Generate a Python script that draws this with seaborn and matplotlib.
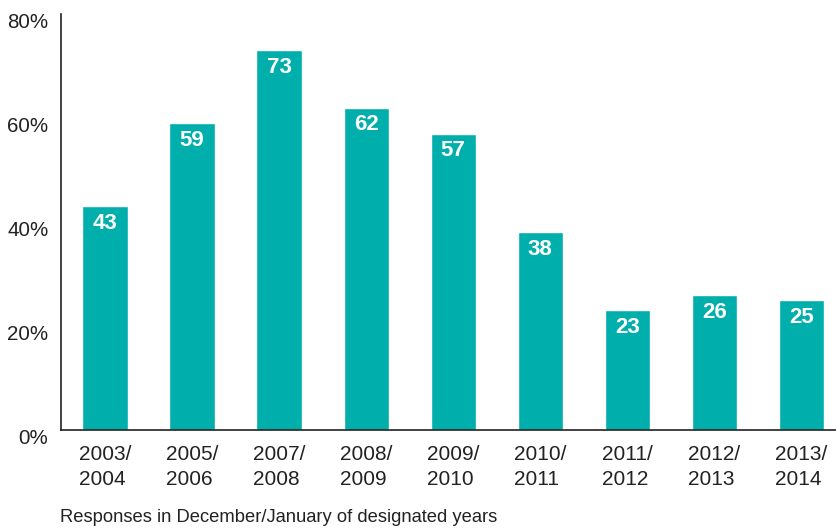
import matplotlib
matplotlib.use("Agg")
import matplotlib.pyplot as plt
import matplotlib.transforms as mtransforms
import seaborn as sns
import pandas as pd

periods = ["2003/\n2004", "2005/\n2006", "2007/\n2008", "2008/\n2009", "2009/\n2010",
           "2010/\n2011", "2011/\n2012", "2012/\n2013", "2013/\n2014"]
values = [43, 59, 73, 62, 57, 38, 23, 26, 25]
yticks = [0, 20, 40, 60, 80]
ytick_labels = ["0%", "20%", "40%", "60%", "80%"]
caption = "Responses in December/January of designated years"

sns.set_style("white")
plt.rcParams["font.family"] = ["Liberation Sans", "DejaVu Sans"]

df = pd.DataFrame({"period": periods, "value": values})

fig = plt.figure(figsize=(8.37, 5.29), dpi=100)
ax = fig.add_axes([61/837, 1 - 430/529, 1 - 61/837, (430 - 14)/529])

sns.barplot(data=df, x="period", y="value", color="#00AFAC", saturation=1,
            width=0.52, ax=ax)

ax.set_ylim(0, 80.0)
ax.set_xlim(-0.506, 8.41)
ax.set_yticks(yticks)
ax.set_yticklabels(ytick_labels, fontsize=14.8, color="#222222")
ax.set_xticklabels(periods, fontsize=15, color="#222222", multialignment="left",
                   linespacing=1.4)
ax.tick_params(axis="both", length=0)
ax.tick_params(axis="x", pad=11)
ax.tick_params(axis="y", pad=9)
ax.set_xlabel("")
ax.set_ylabel("")

off = mtransforms.ScaledTranslation(0, -6/100, fig.dpi_scale_trans)
for lbl in ax.get_yticklabels():
    lbl.set_transform(lbl.get_transform() + off)

for side in ["top", "right"]:
    ax.spines[side].set_visible(False)
for side in ["left", "bottom"]:
    ax.spines[side].set_color("#222222")
    ax.spines[side].set_linewidth(1.2)

for patch, v in zip(ax.patches, values):
    cx = patch.get_x() + patch.get_width() / 2
    ax.annotate(str(v), xy=(cx, patch.get_height()), xytext=(0, -12.5),
                textcoords="offset points", ha="center", va="center",
                color="white", fontsize=16, fontweight="bold")

fig.text(60/837, 1 - 518/529, caption, fontsize=13.2, color="#222222",
         ha="left", va="center")

fig.savefig("out.png", dpi=100)
